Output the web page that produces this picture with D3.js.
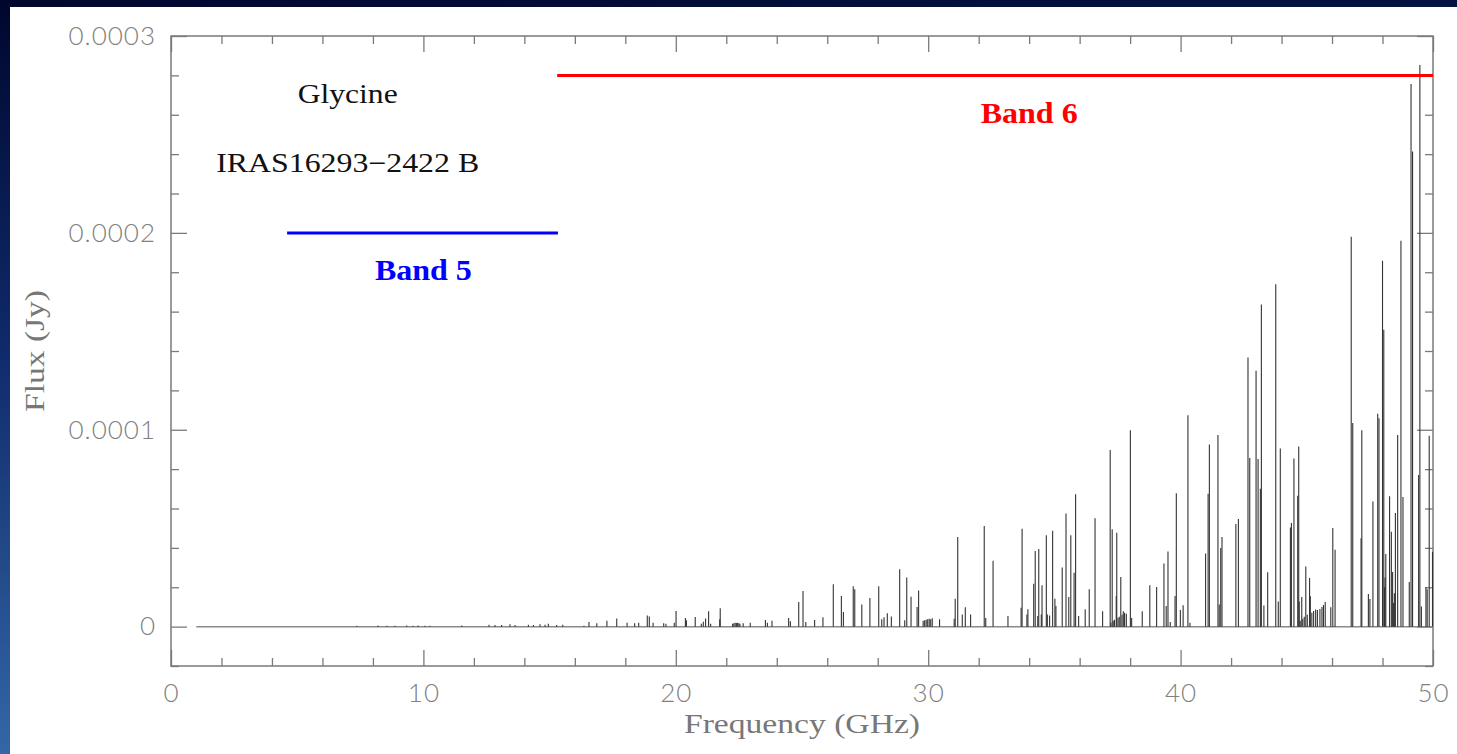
<!DOCTYPE html>
<html lang="en">
<head>
    <meta charset="UTF-8">
    <title>Glycine IRAS16293-2422 B</title>
    <script src="https://d3js.org/d3.v7.min.js"></script>
    <style>
        html, body { margin: 0; padding: 0; overflow: hidden; }
        svg { display: block; }
    </style>
</head>
<body>

<div id="chart"></div>

<script>

    // line catalogue: frequency (GHz) and peak flux (units of 1e-4 Jy)
    var FLUX_UNIT = 1e-4;

    var freqGHz = [
        7.36, 8.20, 8.55, 8.87, 9.34, 9.59, 9.79, 10.06, 10.26, 11.52,
        12.60, 12.84, 13.10, 13.43, 13.63, 14.16, 14.36, 14.62, 14.82, 14.95,
        15.28, 15.52, 16.36, 16.56, 16.87, 17.27, 17.66, 18.07, 18.37, 18.53,
        18.87, 18.95, 19.10, 19.52, 19.61, 19.94, 20.01, 20.38, 20.42, 20.77,
        21.01, 21.09, 21.18, 21.30, 21.38, 21.74, 21.76, 22.25, 22.30, 22.35,
        22.40, 22.45, 22.50, 22.54, 22.67, 22.95, 23.55, 23.63, 23.81, 24.47,
        24.54, 24.87, 25.04, 25.15, 25.50, 25.83, 26.24, 26.56, 26.64, 27.03,
        27.09, 27.37, 27.69, 28.04, 28.16, 28.25, 28.38, 28.54, 28.87, 29.07,
        29.15, 29.32, 29.56, 29.62, 29.80, 29.86, 29.92, 29.98, 30.04, 30.10,
        30.16, 30.45, 31.03, 31.07, 31.17, 31.35, 31.47, 31.68, 32.22, 32.28,
        32.57, 33.16, 33.68, 33.72, 33.91, 33.95, 34.18, 34.24, 34.34, 34.38,
        34.48, 34.51, 34.68, 34.72, 34.81, 34.93, 35.02, 35.06, 35.31, 35.46,
        35.57, 35.65, 35.78, 35.84, 35.96, 36.22, 36.38, 36.61, 36.91, 37.21,
        37.29, 37.24, 37.33, 37.38, 37.52, 37.57, 37.68, 37.78, 37.85, 37.45,
        37.47, 37.63, 37.73, 38.01, 38.06, 38.48, 38.78, 39.05, 39.34, 39.43,
        39.50, 39.59, 39.78, 39.83, 39.99, 40.10, 40.29, 40.37, 40.99, 41.09,
        41.14, 41.48, 41.53, 41.59, 41.64, 42.19, 42.29, 42.67, 42.74, 42.99,
        43.07, 43.16, 43.20, 43.30, 43.45, 43.77, 43.87, 43.95, 44.35, 44.39,
        44.49, 44.64, 44.68, 44.70, 44.80, 44.96, 45.11, 45.14, 45.35, 45.52,
        45.73, 44.74, 44.84, 44.90, 45.02, 45.20, 45.27, 45.42, 45.60, 45.66,
        45.95, 46.03, 46.12, 46.76, 46.82, 47.15, 47.18, 47.44, 47.50, 47.62,
        47.81, 47.86, 48.00, 48.05, 48.08, 48.10, 48.13, 48.28, 48.35, 48.40,
        48.44, 48.47, 48.51, 48.60, 48.73, 48.81, 49.06, 49.13, 49.19, 49.43,
        49.48, 49.54, 49.72, 49.77, 49.85, 49.98
    ];

    var fluxE4 = [
        0.005, 0.006, 0.005, 0.005, 0.006, 0.005, 0.006, 0.005, 0.005, 0.006,
        0.010, 0.008, 0.008, 0.012, 0.008, 0.010, 0.008, 0.012, 0.010, 0.015,
        0.008, 0.010, 0.005, 0.024, 0.017, 0.030, 0.041, 0.020, 0.017, 0.020,
        0.057, 0.051, 0.020, 0.017, 0.014, 0.020, 0.080, 0.044, 0.032, 0.049,
        0.014, 0.025, 0.041, 0.078, 0.014, 0.037, 0.093, 0.015, 0.017, 0.020,
        0.018, 0.020, 0.017, 0.015, 0.017, 0.020, 0.034, 0.020, 0.030, 0.044,
        0.027, 0.125, 0.181, 0.024, 0.034, 0.047, 0.215, 0.156, 0.074, 0.205,
        0.190, 0.113, 0.146, 0.205, 0.037, 0.047, 0.068, 0.052, 0.291, 0.032,
        0.249, 0.152, 0.100, 0.184, 0.030, 0.032, 0.035, 0.037, 0.040, 0.038,
        0.042, 0.037, 0.040, 0.142, 0.455, 0.062, 0.098, 0.062, 0.511, 0.044,
        0.335, 0.054, 0.096, 0.497, 0.062, 0.088, 0.218, 0.384, 0.054, 0.394,
        0.062, 0.210, 0.464, 0.062, 0.057, 0.487, 0.142, 0.105, 0.300, 0.575,
        0.150, 0.464, 0.274, 0.672, 0.054, 0.088, 0.190, 0.550, 0.078, 0.897,
        0.494, 0.020, 0.030, 0.035, 0.045, 0.050, 0.060, 0.070, 0.065, 0.155,
        0.477, 0.252, 0.078, 0.998, 0.044, 0.078, 0.210, 0.201, 0.321, 0.105,
        0.381, 0.024, 0.155, 0.678, 0.084, 0.108, 1.074, 0.020, 0.371, 0.675,
        0.925, 0.973, 0.112, 0.400, 0.455, 0.521, 0.547, 1.367, 0.856, 1.300,
        0.851, 0.700, 1.636, 0.107, 0.276, 1.739, 0.127, 0.905, 0.504, 0.526,
        0.854, 0.665, 0.915, 0.127, 0.150, 0.305, 0.247, 0.154, 0.087, 0.090,
        0.125, 0.030, 0.040, 0.050, 0.060, 0.070, 0.080, 0.085, 0.100, 0.110,
        0.098, 0.501, 0.391, 1.980, 1.034, 0.449, 0.997, 0.166, 0.140, 0.635,
        1.081, 1.059, 1.858, 1.508, 0.200, 0.250, 0.369, 0.662, 0.482, 0.278,
        0.120, 0.170, 0.577, 0.973, 1.960, 0.658, 0.227, 2.756, 2.413, 0.770,
        2.853, 0.102, 0.200, 0.190, 0.970, 0.380
    ];

    var baselineFrom = 1.0;   // GHz, start of the zero-flux trace
    var baselineTo = 50;

    var xMajorTicks = [0, 10, 20, 30, 40, 50];
    var xTickLabels = ["0", "10", "20", "30", "40", "50"];
    var yMajorTicks = [0, 0.0001, 0.0002, 0.0003];
    var yTickLabels = ["0", "0.0001", "0.0002", "0.0003"];

    var bandNames = ["Band 5", "Band 6"];
    var bandFrom = [4.6, 15.3];
    var bandTo = [15.33, 50];
    var bandLevel = [0.0002, 0.00028];
    var bandLabelX = [10.0, 34.0];
    var bandLabelY = [0.000176, 0.000256];
    var bandColors = ["#0000ff", "#ff0000"];

    var notes = ["Glycine", "IRAS16293\u22122422 B"];
    var noteX = [7.0, 7.0];
    var noteY = [0.000266, 0.000231];

    var W = 1457, H = 754;
    var margin = {top: 36, right: 24, bottom: 88, left: 171};

    var x = d3.scaleLinear().domain([0, 50]).range([margin.left, W - margin.right]);
    var y = d3.scaleLinear().domain([-0.00002, 0.0003]).range([H - margin.bottom, margin.top]);

    var svg = d3.select("#chart").append("svg")
        .attr("width", W)
        .attr("height", H);

    // slide background
    var grad = svg.append("defs").append("linearGradient")
        .attr("id", "bg")
        .attr("x1", 0).attr("y1", 0).attr("x2", 0.15).attr("y2", 1);
    grad.append("stop").attr("offset", 0).attr("stop-color", "#00072e");
    grad.append("stop").attr("offset", 0.45).attr("stop-color", "#0f2a6a");
    grad.append("stop").attr("offset", 1).attr("stop-color", "#3569a8");

    svg.append("rect").attr("width", W).attr("height", H).attr("fill", "url(#bg)");
    svg.append("rect").attr("x", 10).attr("y", 7).attr("width", W - 10).attr("height", H - 7)
        .attr("fill", "white");

    var axisColor = "#7a7a7a";
    var tickFont = "Lato, 'DejaVu Sans', sans-serif";

    function styleAxis(g) {
        g.select(".domain").remove();
        g.selectAll(".tick line").attr("stroke", axisColor).attr("stroke-width", 1.3);
        g.selectAll(".tick text")
            .attr("fill", "#808080")
            .style("font-family", tickFont)
            .style("font-weight", 300)
            .style("font-size", "26px")
            .style("letter-spacing", "1px");
    }

    var xMinor = d3.range(0, 51, 2).filter(d => d % 10 !== 0);
    var yMinor = d3.range(-1, 16).filter(i => i % 5 !== 0).map(i => i * 0.00002);

    // bottom
    svg.append("g")
        .attr("transform", `translate(0,${y.range()[0]})`)
        .call(d3.axisBottom(x).tickValues(xMajorTicks).tickSize(-16).tickPadding(18)
            .tickFormat((d, i) => xTickLabels[i]))
        .call(styleAxis);
    svg.append("g")
        .attr("transform", `translate(0,${y.range()[0]})`)
        .call(d3.axisBottom(x).tickValues(xMinor).tickSize(-8).tickFormat(""))
        .call(styleAxis);
    // top
    svg.append("g")
        .attr("transform", `translate(0,${y.range()[1]})`)
        .call(d3.axisTop(x).tickValues(xMajorTicks).tickSize(-16).tickFormat(""))
        .call(styleAxis);
    svg.append("g")
        .attr("transform", `translate(0,${y.range()[1]})`)
        .call(d3.axisTop(x).tickValues(xMinor).tickSize(-8).tickFormat(""))
        .call(styleAxis);
    // left
    svg.append("g")
        .attr("transform", `translate(${x.range()[0]},0)`)
        .call(d3.axisLeft(y).tickValues(yMajorTicks).tickSize(-16).tickPadding(15)
            .tickFormat((d, i) => yTickLabels[i]))
        .call(styleAxis);
    svg.append("g")
        .attr("transform", `translate(${x.range()[0]},0)`)
        .call(d3.axisLeft(y).tickValues(yMinor).tickSize(-8).tickFormat(""))
        .call(styleAxis);
    // right
    svg.append("g")
        .attr("transform", `translate(${x.range()[1]},0)`)
        .call(d3.axisRight(y).tickValues(yMajorTicks).tickSize(-16).tickFormat(""))
        .call(styleAxis);
    svg.append("g")
        .attr("transform", `translate(${x.range()[1]},0)`)
        .call(d3.axisRight(y).tickValues(yMinor).tickSize(-8).tickFormat(""))
        .call(styleAxis);

    // frame
    svg.append("rect")
        .attr("x", x.range()[0]).attr("y", y.range()[1])
        .attr("width", x.range()[1] - x.range()[0])
        .attr("height", y.range()[0] - y.range()[1])
        .attr("fill", "none")
        .attr("stroke", axisColor)
        .attr("stroke-width", 1.5);

    // zero baseline
    svg.append("line")
        .attr("x1", x(baselineFrom)).attr("x2", x(baselineTo))
        .attr("y1", y(0)).attr("y2", y(0))
        .attr("stroke", "#8a8a8a")
        .attr("stroke-width", 1.5);

    // spectral lines
    var lines = freqGHz.map((f, i) => ({f: f, v: fluxE4[i] * FLUX_UNIT}));

    svg.append("g")
        .attr("stroke", "#333")
        .attr("stroke-width", 1.1)
        .selectAll("line")
        .data(lines)
        .join("line")
        .attr("x1", d => x(d.f)).attr("x2", d => x(d.f))
        .attr("y1", y(0))
        .attr("y2", d => y(d.v));

    // band coverage
    var bands = bandNames.map((n, i) => ({
        name: n, from: bandFrom[i], to: bandTo[i], level: bandLevel[i],
        lx: bandLabelX[i], ly: bandLabelY[i], color: bandColors[i]
    }));

    svg.append("g").selectAll("line")
        .data(bands)
        .join("line")
        .attr("x1", d => x(d.from)).attr("x2", d => x(d.to))
        .attr("y1", d => y(d.level)).attr("y2", d => y(d.level))
        .attr("stroke", d => d.color)
        .attr("stroke-width", 3);

    svg.append("g").selectAll("text")
        .data(bands)
        .join("text")
        .attr("x", d => x(d.lx))
        .attr("y", d => y(d.ly))
        .attr("text-anchor", "middle")
        .attr("fill", d => d.color)
        .attr("textLength", 97)
        .attr("lengthAdjust", "spacingAndGlyphs")
        .style("font-family", "'Liberation Serif', 'DejaVu Serif', serif")
        .style("font-weight", "bold")
        .style("font-size", "29px")
        .text(d => d.name);

    // source annotations
    var noteWidths = [100, 263];
    svg.append("g").selectAll("text")
        .data(notes)
        .join("text")
        .attr("x", (d, i) => x(noteX[i]))
        .attr("y", (d, i) => y(noteY[i]))
        .attr("text-anchor", "middle")
        .attr("fill", "#111")
        .attr("textLength", (d, i) => noteWidths[i])
        .attr("lengthAdjust", "spacingAndGlyphs")
        .style("font-family", "'Liberation Serif', 'DejaVu Serif', serif")
        .style("font-size", "27px")
        .text(d => d);

    // axis titles
    svg.append("text")
        .attr("x", (x.range()[0] + x.range()[1]) / 2)
        .attr("y", 733)
        .attr("text-anchor", "middle")
        .attr("fill", "#777")
        .attr("textLength", 236)
        .attr("lengthAdjust", "spacingAndGlyphs")
        .style("font-family", "'Liberation Serif', 'DejaVu Serif', serif")
        .style("font-size", "28px")
        .text("Frequency (GHz)");

    svg.append("text")
        .attr("transform", "translate(44,351) rotate(-90)")
        .attr("text-anchor", "middle")
        .attr("fill", "#777")
        .attr("textLength", 122)
        .attr("lengthAdjust", "spacingAndGlyphs")
        .style("font-family", "'Liberation Serif', 'DejaVu Serif', serif")
        .style("font-size", "28px")
        .text("Flux (Jy)");

</script>

</body>
</html>
